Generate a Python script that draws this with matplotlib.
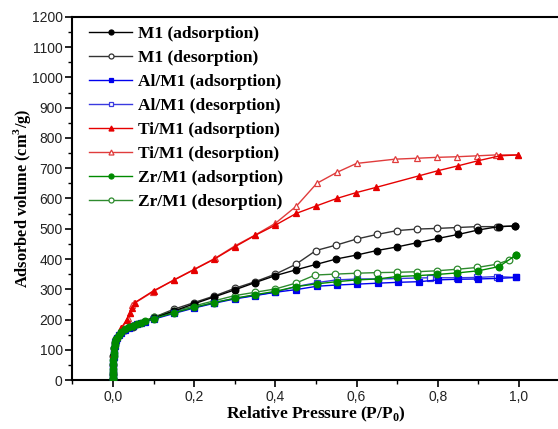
import matplotlib
matplotlib.use("Agg")
import matplotlib.pyplot as plt
from matplotlib.ticker import MultipleLocator, FuncFormatter

# ---- data ----
m1_ads_p = [0.00002, 0.0001, 0.0004, 0.001, 0.002, 0.004, 0.008, 0.015, 0.03, 0.05, 0.1, 0.15, 0.2, 0.25, 0.3,
            0.35, 0.4, 0.45, 0.5, 0.55, 0.6, 0.65, 0.7, 0.75, 0.8, 0.85, 0.9, 0.95, 0.99]
m1_ads_v = [4, 20, 48, 80, 105, 122, 136, 150, 166, 180, 205, 228, 252, 275, 298,
            322, 345, 364, 382, 400, 413, 428, 440, 454, 468, 481, 496, 507, 509]
m1_des_p = [0.99, 0.947, 0.897, 0.847, 0.797, 0.75, 0.7, 0.65, 0.6, 0.55, 0.5, 0.45, 0.4, 0.35, 0.3,
            0.25, 0.2, 0.15, 0.1, 0.05]
m1_des_v = [509, 507, 507, 504, 501, 499, 494, 481, 466, 446, 428, 382, 350, 325, 303,
            278, 256, 234, 207, 176]

al_ads_p = [0.00002, 0.00005, 0.0001, 0.0002, 0.0004, 0.0007, 0.001, 0.0015, 0.002, 0.003, 0.004, 0.006,
            0.008, 0.01, 0.015, 0.02, 0.03, 0.04, 0.05, 0.06, 0.07, 0.08, 0.1, 0.15, 0.2, 0.25, 0.3, 0.35,
            0.4, 0.452, 0.503, 0.551, 0.602, 0.652, 0.703, 0.755, 0.8, 0.849, 0.9, 0.951, 0.994]
al_ads_v = [3, 8, 15, 25, 37, 50, 63, 76, 88, 102, 112, 124,
            132, 138, 148, 156, 165, 172, 178, 184, 188, 193, 201, 220, 238, 254, 268, 279,
            290, 299, 310, 314, 317, 320, 323, 325, 331, 333, 334, 336, 339]
al_des_p = [0.994, 0.945, 0.896, 0.847, 0.78, 0.652, 0.602, 0.551, 0.503, 0.452, 0.4, 0.35, 0.3,
            0.25, 0.2, 0.15, 0.1, 0.05]
al_des_v = [339, 342, 339, 338, 338, 334, 334, 331, 322, 309, 291, 280, 270,
            256, 240, 225, 205, 178]

ti_ads_p = [0.00002, 0.0001, 0.0004, 0.001, 0.002, 0.004, 0.009, 0.02, 0.034, 0.042, 0.046, 0.054, 0.1,
            0.15, 0.2, 0.25, 0.3, 0.35, 0.4, 0.452, 0.5, 0.551, 0.598, 0.649, 0.754, 0.801, 0.85, 0.9,
            0.953, 0.997]
ti_ads_v = [5, 20, 50, 85, 110, 128, 143, 171, 200, 220, 237, 256, 295,
            330, 365, 400, 440, 478, 512, 551, 575, 600, 619, 637, 675, 692, 708, 725,
            741, 744]
ti_des_p = [0.997, 0.943, 0.896, 0.847, 0.797, 0.748, 0.695, 0.6, 0.551, 0.502, 0.452, 0.4, 0.35, 0.3,
            0.251, 0.2, 0.15, 0.099, 0.052, 0.048, 0.042, 0.038, 0.021]
ti_des_v = [744, 744, 741, 738, 736, 733, 730, 716, 686, 650, 575, 518, 479, 443,
            402, 366, 331, 292, 253, 248, 220, 204, 171]

zr_ads_p = [0.00002, 0.00005, 0.0001, 0.0002, 0.0004, 0.0007, 0.001, 0.0015, 0.002, 0.003, 0.004, 0.006,
            0.008, 0.01, 0.015, 0.02, 0.03, 0.04, 0.05, 0.06, 0.07, 0.08, 0.1, 0.15, 0.2, 0.25, 0.3, 0.35,
            0.4, 0.452, 0.503, 0.551, 0.602, 0.652, 0.699, 0.75, 0.799, 0.848, 0.9, 0.951, 0.993]
zr_ads_v = [3, 8, 15, 25, 38, 52, 65, 78, 90, 105, 115, 127,
            135, 140, 150, 158, 167, 174, 180, 186, 190, 195, 203, 222, 240, 256, 270, 282,
            293, 309, 318, 325, 331, 334, 342, 345, 349, 354, 361, 375, 413]
zr_des_p = [0.993, 0.975, 0.947, 0.897, 0.847, 0.797, 0.75, 0.699, 0.65, 0.6, 0.547, 0.498, 0.45, 0.4,
            0.35, 0.3, 0.25, 0.2, 0.15, 0.1, 0.05]
zr_des_v = [413, 397, 383, 372, 366, 361, 358, 356, 355, 353, 350, 347, 320, 301,
            290, 279, 262, 245, 228, 208, 180]

labels = ["M1 (adsorption)", "M1 (desorption)", "Al/M1 (adsorption)", "Al/M1 (desorption)",
          "Ti/M1 (adsorption)", "Ti/M1 (desorption)", "Zr/M1 (adsorption)", "Zr/M1 (desorption)"]

fig = plt.figure(figsize=(5.58, 4.29), dpi=100)
ax = fig.add_axes([0.1297, 0.1142, 0.873, 0.8462])

BLACK, GRAY = "#000000", "#333333"
BLUE, BLUE2 = "#0000ee", "#3a3ae0"
RED, RED2 = "#e60000", "#e03c3c"
GREEN, GREEN2 = "#008a00", "#2e8b2e"

ms = 4.8
lw = 1.0
series = [
    (m1_ads_p, m1_ads_v, BLACK, "o", True, 3.0),
    (m1_des_p, m1_des_v, GRAY, "o", False, 2.5),
    (al_ads_p, al_ads_v, BLUE, "s", True, 3.0),
    (al_des_p, al_des_v, BLUE2, "s", False, 2.5),
    (ti_ads_p, ti_ads_v, RED, "^", True, 3.0),
    (ti_des_p, ti_des_v, RED2, "^", False, 2.5),
    (zr_ads_p, zr_ads_v, GREEN, "o", True, 3.2),
    (zr_des_p, zr_des_v, GREEN2, "o", False, 2.6),
]
for (p, v, c, m, filled, z), lab in zip(series, labels):
    ax.plot(p, v, color=c, lw=lw, marker=m, ms=ms, zorder=z,
            mfc=c if filled else "white", mec=c, mew=0.9, label=lab)

ax.set_xlim(-0.1, 1.1)
ax.set_ylim(0, 1200)
ax.xaxis.set_major_locator(MultipleLocator(0.2))
ax.xaxis.set_minor_locator(MultipleLocator(0.1))
ax.yaxis.set_major_locator(MultipleLocator(100))
ax.yaxis.set_minor_locator(MultipleLocator(50))
ax.xaxis.set_major_formatter(FuncFormatter(lambda x, pos: f"{x:.1f}".replace(".", ",")))
ax.yaxis.set_major_formatter(FuncFormatter(lambda y, pos: f"{int(round(y))}"))

for s in ax.spines.values():
    s.set_linewidth(1.5)
ax.tick_params(which="major", direction="out", length=5, width=1.2,
               labelsize=10, labelfontfamily="Liberation Sans", labelcolor="#222222", pad=2)
ax.tick_params(which="minor", direction="out", length=3, width=1.0)

ax.set_xlabel("Relative Pressure (P/P$_\\mathregular{0}$)",
              fontdict=dict(family="Liberation Serif", weight="bold", size=12.5), labelpad=1)
ax.set_ylabel("Adsorbed volume (cm$^\\mathregular{3}$/g)",
              fontdict=dict(family="Liberation Serif", weight="bold", size=11.8), labelpad=-1)

leg = ax.legend(loc="upper left", frameon=False,
                prop=dict(family="Liberation Serif", weight="bold", size=12.5),
                handlelength=2.5, handletextpad=0.3, labelspacing=0.45, markerscale=0.75,
                borderaxespad=0.0, bbox_to_anchor=(0.02, 0.995))

fig.savefig("out.png", dpi=100)
